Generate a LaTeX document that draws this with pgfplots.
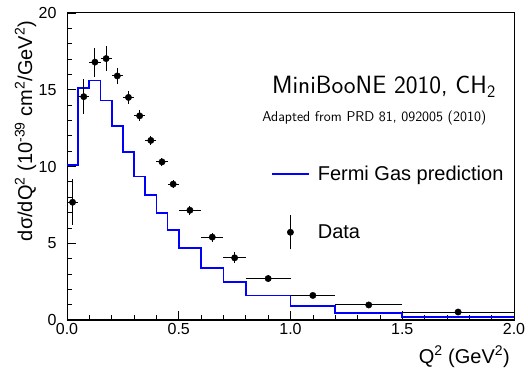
\documentclass[border=0pt]{standalone}
\usepackage{fontspec}
\setmainfont{Liberation Sans}
\usepackage{pgfplots}
\pgfplotsset{compat=1.18}
\definecolor{fgblue}{RGB}{0,0,255}
\begin{document}
\begin{tikzpicture}
\begin{axis}[
  name=ax,
  scale only axis, width=447pt, height=307pt,
  xmin=0, xmax=2, ymin=0, ymax=20,
  xtick={0,0.5,1,1.5,2}, ytick={0,5,10,15,20},
  minor x tick num=4, minor y tick num=4,
  tick align=inside, xtick pos=bottom, ytick pos=left,
  major tick length=9pt, minor tick length=5pt,
  tick style={black, line width=0.7pt},
  axis line style={black, line width=1pt},
  /pgf/number format/assume math mode=true,
  xticklabel style={/pgf/number format/.cd, fixed, fixed zerofill, precision=1},
  ticklabel style={font=\fontsize{16}{18}\selectfont},
  yticklabel style={xshift=-7pt},
  xlabel={Q\textsuperscript{2} (GeV\textsuperscript{2})},
  xlabel style={font=\fontsize{20}{24}\selectfont, at={(axis description cs:1,0)}, anchor=base east, inner sep=0pt, yshift=-43pt, xshift=-4pt},
  ylabel={dσ/dQ\textsuperscript{2} (10\textsuperscript{-39} cm\textsuperscript{2}/GeV\textsuperscript{2})},
  ylabel style={font=\fontsize{20}{24}\selectfont, at={(axis description cs:-0.078,0.975)}, anchor=base east, inner sep=0pt},
  legend style={draw=none, fill=none, at={(axis description cs:0.456,0.503)}, anchor=north west,
    font=\fontsize{20}{24}\selectfont, row sep=33pt, inner sep=0pt, nodes={inner sep=0pt},
    /tikz/every odd column/.append style={column sep=8pt}},
  legend cell align=left,
]
\addplot[draw=fgblue, color=fgblue, line width=1.8pt, const plot, mark=none,
  legend image code/.code={\draw[draw=fgblue, line width=1.8pt] (0pt,0pt)--(37pt,0pt);}]
  coordinates {
  (0,10.1) (0.05,15.1) (0.1,15.6) (0.15,14.3) (0.2,12.65) (0.25,10.95)
  (0.3,9.35) (0.35,8.15) (0.4,6.95) (0.45,5.85) (0.5,4.7) (0.6,3.4)
  (0.7,2.5) (0.8,1.6) (1.0,0.9) (1.2,0.45) (1.5,0.17) (2.0,0.17)
  };
\addlegendentry{Fermi Gas prediction}
\addplot[black, only marks, mark=*, mark size=3.2pt,
  error bars/.cd, x dir=both, x explicit, y dir=both, y explicit,
  error mark=none, error bar style={line width=1pt, black},
  /pgfplots/legend image code/.code={\draw[black, line width=1pt] (18.5pt,-17pt)--(18.5pt,17pt); \fill[black] (18.5pt,0pt) circle (3.2pt);}]
  table[x=x, y=y, x error=ex, y error=ey] {
  x y ex ey
  0.025 7.67 0.025 1.5
  0.075 14.55 0.025 1.15
  0.125 16.8 0.025 0.95
  0.175 17.03 0.025 0.8
  0.225 15.9 0.025 0.5
  0.275 14.5 0.025 0.4
  0.325 13.3 0.025 0.35
  0.375 11.7 0.025 0.3
  0.425 10.3 0.025 0.28
  0.475 8.85 0.025 0.28
  0.55 7.15 0.05 0.3
  0.65 5.4 0.05 0.3
  0.75 4.05 0.05 0.35
  0.9 2.7 0.1 0.25
  1.1 1.6 0.1 0.15
  1.35 0.98 0.15 0.12
  1.75 0.52 0.25 0.08
  };
\addlegendentry{Data}
\node[anchor=base west, font=\sffamily\fontsize{25}{28}\selectfont, inner sep=0pt] at (axis cs:0.917,14.77) {MiniBooNE 2010, CH\textsubscript{2}};
\node[anchor=base west, font=\sffamily\fontsize{14.2}{16}\selectfont, inner sep=0pt] at (axis cs:0.873,12.93) {Adapted from PRD 81, 092005 (2010)};
\end{axis}
\pgfresetboundingbox
\path[use as bounding box] ([shift={(-67pt,-48pt)}]ax.south west) rectangle ([shift={(14pt,13pt)}]ax.north east);
\end{tikzpicture}
\end{document}
